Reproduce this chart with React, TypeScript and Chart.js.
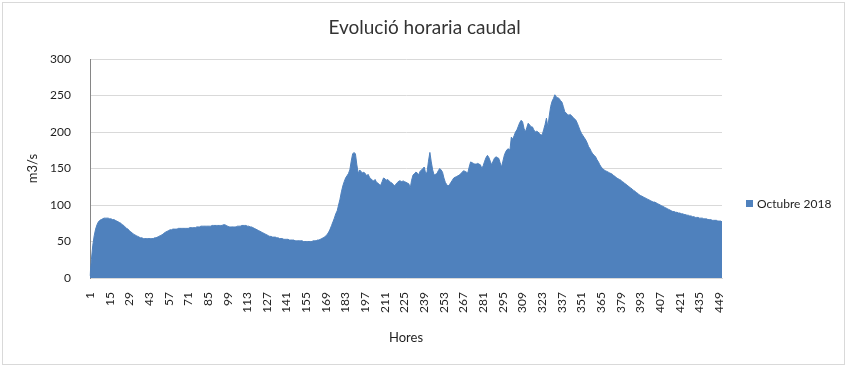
import { useEffect, useRef } from "react";
import { Chart, registerables } from "chart.js";

Chart.register(...registerables);

const chartTitle = "Evolució horaria caudal";
const seriesName = "Octubre 2018";
const yAxisTitle = "m3/s";
const xAxisTitle = "Hores";
const yMin = 0;
const yMax = 300;
const yStep = 50;
const labelEvery = 14;

// Hourly flow (m3/s)
const caudal: number[] = [
  3, 25, 45, 58, 67, 73, 77, 79, 80, 81, 82, 82, 82, 82,
  81, 81, 80, 80, 79, 78, 77, 76, 75, 73, 72, 70, 68, 67,
  65, 63, 62, 60, 59, 58, 57, 56, 55, 55, 54, 54, 54, 54,
  54, 54, 54, 54, 55, 55, 56, 57, 58, 59, 60, 62, 63, 64,
  65, 66, 66, 67, 67, 67, 67, 68, 68, 68, 68, 68, 68, 68,
  68, 69, 69, 69, 69, 69, 70, 70, 70, 71, 71, 71, 71, 71,
  71, 71, 71, 72, 72, 72, 72, 72, 72, 72, 72, 73, 73, 72,
  71, 70, 70, 70, 70, 70, 70, 71, 71, 71, 72, 72, 72, 72,
  71, 71, 70, 70, 69, 68, 67, 66, 65, 64, 63, 62, 61, 60,
  59, 58, 57, 57, 56, 56, 56, 55, 55, 54, 54, 54, 53, 53,
  53, 53, 52, 52, 52, 52, 51, 51, 51, 51, 51, 51, 50, 50,
  50, 50, 50, 50, 50, 51, 51, 51, 52, 52, 53, 54, 55, 56,
  58, 60, 63, 67, 72, 77, 82, 88, 92, 100, 108, 118, 126, 132,
  137, 140, 143, 148, 160, 170, 172, 170, 155, 143, 148, 146, 144, 145,
  143, 140, 142, 138, 136, 134, 133, 135, 131, 130, 128, 127, 132, 137,
  136, 134, 135, 133, 131, 130, 128, 126, 129, 131, 133, 133, 132, 133,
  132, 131, 130, 129, 123, 134, 141, 143, 145, 144, 141, 146, 148, 150,
  152, 143, 145, 160, 172, 159, 148, 141, 142, 143, 147, 150, 148, 145,
  137, 131, 128, 126, 128, 131, 134, 137, 138, 139, 140, 141, 143, 145,
  147, 146, 145, 144, 152, 159, 158, 157, 156, 156, 157, 156, 155, 150,
  154, 160, 165, 168, 165, 160, 155, 160, 164, 166, 165, 164, 158, 152,
  160, 168, 173, 176, 177, 175, 193, 190, 195, 200, 203, 208, 213, 216,
  214, 205, 200, 206, 212, 210, 207, 207, 203, 200, 201, 200, 198, 196,
  196, 203, 210, 219, 207, 222, 235, 242, 246, 251, 248, 247, 246, 243,
  241, 235, 228, 226, 224, 223, 224, 222, 220, 218, 216, 212, 207, 202,
  198, 195, 192, 189, 185, 180, 177, 173, 170, 168, 166, 162, 159, 155,
  152, 150, 148, 147, 146, 145, 144, 143, 142, 140, 139, 137, 136, 135,
  134, 132, 131, 129, 128, 126, 125, 123, 122, 120, 119, 117, 116, 114,
  113, 112, 111, 110, 109, 108, 107, 106, 105, 104, 104, 103, 102, 101,
  100, 99, 98, 97, 96, 95, 94, 93, 92, 91, 91, 90, 90, 89,
  89, 88, 88, 87, 87, 86, 86, 85, 85, 84, 84, 83, 83, 83,
  82, 82, 82, 81, 81, 81, 80, 80, 80, 79, 79, 79, 79, 78,
  78, 78, 77,
];

const hores: string[] = caudal.map((_, i) => String(i + 1));

const FONT = "Lato, 'Open Sans', sans-serif";
const AREA_COLOR = "#4F81BD";
const GRID_COLOR = "#D9D9D9";
const TEXT_COLOR = "#1f1f1f";

const decorPlugin = {
  id: "decor",
  beforeDraw(chart: any) {
    const ctx = chart.ctx;
    ctx.save();
    ctx.fillStyle = "#ffffff";
    ctx.fillRect(0, 0, chart.width, chart.height);
    ctx.strokeStyle = "#D9D9D9";
    ctx.lineWidth = 1;
    ctx.strokeRect(2.5, 2.5, chart.width - 11, chart.height - 8);
    ctx.restore();
  },
  afterDraw(chart: any) {
    const ctx = chart.ctx;
    const area = chart.chartArea;
    ctx.save();
    // title, centred on the whole chart
    ctx.fillStyle = "#333333";
    ctx.font = `19px ${FONT}`;
    ctx.textAlign = "center";
    ctx.textBaseline = "middle";
    ctx.fillText(chartTitle, chart.width / 2 - 2, 28);
    // legend
    const legendX = area.right + 24;
    const legendY = 204;
    ctx.fillStyle = AREA_COLOR;
    ctx.fillRect(legendX, legendY - 4, 7, 7);
    ctx.fillStyle = TEXT_COLOR;
    ctx.font = `12px ${FONT}`;
    ctx.textBaseline = "middle";
    ctx.textAlign = "left";
    ctx.fillText(seriesName, legendX + 11, legendY);
    ctx.restore();
  },
};

export default function App() {
  const canvasRef = useRef<HTMLCanvasElement | null>(null);

  useEffect(() => {
    if (!canvasRef.current) return;
    const chart = new Chart(canvasRef.current, {
      type: "line",
      data: {
        labels: hores,
        datasets: [
          {
            label: seriesName,
            data: caudal,
            fill: "origin",
            backgroundColor: AREA_COLOR,
            borderColor: AREA_COLOR,
            borderWidth: 1,
            pointRadius: 0,
            tension: 0,
          },
        ],
      },
      options: {
        animation: false,
        responsive: true,
        maintainAspectRatio: false,
        layout: { padding: { left: 0, top: 59, right: 131, bottom: 0 } },
        plugins: {
          legend: { display: false },
          tooltip: { enabled: false },
          title: { display: false },
        },
        scales: {
          x: {
            type: "category",
            offset: false,
            grid: { display: false, drawTicks: false },
            border: { display: true, color: GRID_COLOR },
            ticks: {
              autoSkip: false,
              maxRotation: 90,
              minRotation: 90,
              padding: 14,
              color: TEXT_COLOR,
              font: { family: FONT, size: 12 },
              callback: (_v: any, i: number) => (i % labelEvery === 0 ? hores[i] : null),
            },
            title: {
              display: true,
              text: xAxisTitle,
              color: TEXT_COLOR,
              font: { family: FONT, size: 13 },
              padding: { top: 0, bottom: 24 },
            },
            afterFit: (s: any) => {
              s.height = 92;
            },
          },
          y: {
            min: yMin,
            max: yMax,
            ticks: {
              stepSize: yStep,
              padding: 19,
              color: TEXT_COLOR,
              font: { family: FONT, size: 12 },
            },
            grid: { color: GRID_COLOR, drawTicks: false },
            border: { display: true, color: "#868686" },
            title: {
              display: true,
              text: yAxisTitle,
              color: TEXT_COLOR,
              font: { family: FONT, size: 13 },
              padding: { top: 25, bottom: 0 },
            },
            afterFit: (s: any) => {
              s.width = 90;
            },
          },
        },
      },
      plugins: [decorPlugin],
    } as any);
    return () => chart.destroy();
  }, []);

  return (
    <div style={{ position: "absolute", left: 0, top: 0, width: 853, height: 370 }}>
      <canvas ref={canvasRef} />
    </div>
  );
}
